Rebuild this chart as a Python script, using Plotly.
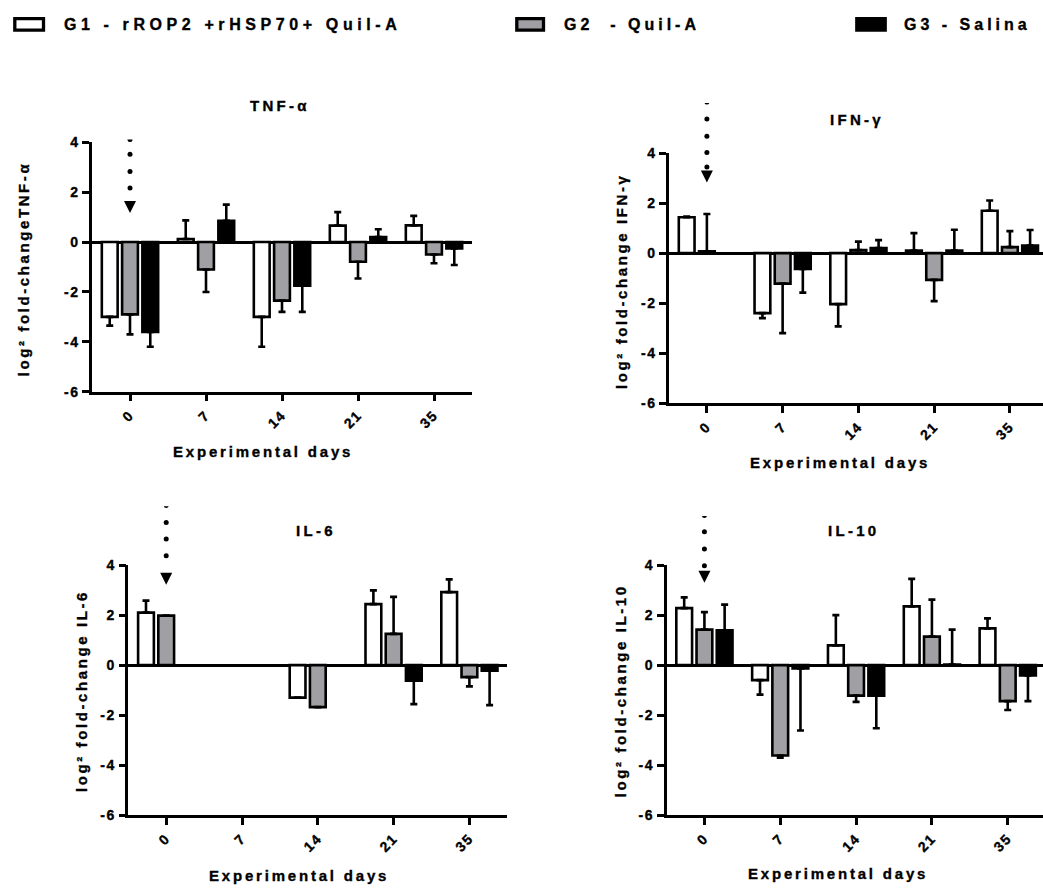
import plotly.graph_objects as go

# ---------------- data ----------------
days = ["0", "7", "14", "21", "35"]
group_names = ["G1 - rROP2 +rHSP70+ Quil-A", "G2  - Quil-A", "G3 - Salina"]
group_colors = ["#ffffff", "#a0a0a4", "#000000"]

# TNF-alpha
tnf_g1 = [-3.0, 0.12, -3.0, 0.66, 0.67]
tnf_g1_sem = [0.35, 0.75, 1.2, 0.54, 0.38]
tnf_g2 = [-2.9, -1.1, -2.35, -0.79, -0.5]
tnf_g2_sem = [0.8, 0.9, 0.45, 0.67, 0.35]
tnf_g3 = [-3.6, 0.85, -1.75, 0.2, -0.26]
tnf_g3_sem = [0.6, 0.65, 1.05, 0.31, 0.66]

# IFN-gamma
ifn_g1 = [1.43, -2.4, -2.04, 0.1, 1.69]
ifn_g1_sem = [0.03, 0.2, 0.89, 0.7, 0.41]
ifn_g2 = [0.07, -1.22, 0.12, -1.07, 0.24]
ifn_g2_sem = [1.49, 1.98, 0.34, 0.85, 0.64]
ifn_g3 = [None, -0.63, 0.2, 0.1, 0.3]
ifn_g3_sem = [None, 0.95, 0.32, 0.83, 0.62]

# IL-6
il6_g1 = [2.1, None, -1.3, 2.44, 2.92]
il6_g1_sem = [0.48, None, 0.0, 0.55, 0.51]
il6_g2 = [1.98, None, -1.68, 1.25, -0.48]
il6_g2_sem = [0.0, None, 0.0, 1.48, 0.37]
il6_g3 = [None, None, None, -0.62, -0.22]
il6_g3_sem = [None, None, None, 0.94, 1.38]

# IL-10
il10_g1 = [2.28, -0.6, 0.79, 2.35, 1.47]
il10_g1_sem = [0.43, 0.58, 1.21, 1.1, 0.4]
il10_g2 = [1.42, -3.62, -1.22, 1.14, -1.44]
il10_g2_sem = [0.7, 0.09, 0.25, 1.48, 0.36]
il10_g3 = [1.39, -0.13, -1.22, 0.02, -0.41]
il10_g3_sem = [1.03, 2.49, 1.31, 1.4, 1.03]

# dotted arrows (immunisation mark at day 0)
tnf_arrow_dots = [4.11, 3.52, 2.83, 2.17]
tnf_arrow_tip = 1.16
ifn_arrow_dots = [6.04, 5.36, 4.67, 4.02, 3.44]
ifn_arrow_tip = 2.82
il6_arrow_dots = [6.39, 5.71, 5.05, 4.38]
il6_arrow_tip = 3.22
il10_arrow_dots = [5.99, 5.34, 4.65, 3.98]
il10_arrow_tip = 3.30

panel_titles = ["TNF-α", "IFN-γ", "IL-6", "IL-10"]
y_titles = ["log² fold-changeTNF-α", "log² fold-change IFN-γ",
            "log² fold-change IL-6", "log² fold-change IL-10"]
x_title = "Experimental days"
y_ticks = [-6, -4, -2, 0, 2, 4]
y_tick_labels = ["-6", "-4", "-2", "0", "2", "4"]

# ---------------- layout helpers ----------------
W, H = 1043, 895
FONT = "Liberation Sans, Arial, sans-serif"


def px_x(p):
    return p / W


def px_y(p):
    return 1 - p / H


def spaced(text, sp):
    return (f'<span style="letter-spacing:{sp}px;stroke:#000;stroke-width:0.35px">'
            f'{text}</span>')


panels = [
    dict(vals=[(tnf_g1, tnf_g1_sem), (tnf_g2, tnf_g2_sem), (tnf_g3, tnf_g3_sem)],
         dots=tnf_arrow_dots, tip=tnf_arrow_tip, cut=134.0,
         x0=92, x1=472, xr=[-0.5, 4.5], ytop=136.7, ybot=390.7,
         title=(280, 99), xt=(263, 451.7), yt=(23.3, 265.8)),
    dict(vals=[(ifn_g1, ifn_g1_sem), (ifn_g2, ifn_g2_sem), (ifn_g3, ifn_g3_sem)],
         dots=ifn_arrow_dots, tip=ifn_arrow_tip, cut=96.7,
         x0=669, x1=1043, xr=[-0.5, 4.437], ytop=147.7, ybot=402.3,
         title=(856.7, 113.5), xt=(840, 462.7), yt=(621.7, 278.3)),
    dict(vals=[(il6_g1, il6_g1_sem), (il6_g2, il6_g2_sem), (il6_g3, il6_g3_sem)],
         dots=il6_arrow_dots, tip=il6_arrow_tip, cut=507.2,
         x0=128.3, x1=507.3, xr=[-0.5, 4.5], ytop=567.3, ybot=821.7,
         title=(315.6, 531.7), xt=(298.8, 883.3), yt=(81.7, 695.8)),
    dict(vals=[(il10_g1, il10_g1_sem), (il10_g2, il10_g2_sem), (il10_g3, il10_g3_sem)],
         dots=il10_arrow_dots, tip=il10_arrow_tip, cut=517.2,
         x0=666.5, x1=1043, xr=[-0.5, 4.465], ytop=567.3, ybot=821.7,
         title=(854, 531.7), xt=(837.5, 881.7), yt=(620, 695.8)),
]

fig = go.Figure()
annotations = []
layout_axes = {}
tickfont = dict(family=FONT, size=14, color="black", weight="bold")

for i, p in enumerate(panels):
    n = "" if i == 0 else str(i + 1)
    xa, ya = "x" + n, "y" + n
    ya_arrow = "y" + str(i + 5)
    for g, (vals, sem) in enumerate(p["vals"]):
        plus = [(e if (v is not None and v >= 0) else 0) if e is not None else None
                for v, e in zip(vals, sem)]
        minus = [(e if (v is not None and v < 0) else 0) if e is not None else None
                 for v, e in zip(vals, sem)]
        fig.add_trace(go.Bar(
            x=days, y=vals, name=group_names[g], showlegend=False,
            xaxis=xa, yaxis=ya,
            marker=dict(color=group_colors[g], line=dict(color="black", width=2.6)),
            error_y=dict(type="data", symmetric=False, array=plus, arrayminus=minus,
                         color="black", thickness=2.6, width=3.5),
        ))
    # dotted arrow (on an invisible y axis with identical scale, extended upwards)
    fig.add_trace(go.Scatter(
        x=[days[0]] * len(p["dots"]), y=p["dots"], mode="markers",
        marker=dict(symbol="circle", size=5, color="black", line=dict(width=0)),
        xaxis=xa, yaxis=ya_arrow, showlegend=False, hoverinfo="skip"))
    fig.add_trace(go.Scatter(
        x=[days[0]], y=[p["tip"]], mode="markers",
        marker=dict(symbol="arrow-down", size=12, color="black", line=dict(width=0)),
        xaxis=xa, yaxis=ya_arrow, showlegend=False, hoverinfo="skip"))

    layout_axes["xaxis" + n] = dict(
        domain=[px_x(p["x0"]), min(1.0, px_x(p["x1"]))], anchor=ya,
        type="category", range=p["xr"], showline=True, linecolor="black", linewidth=2.5,
        ticks="outside", ticklen=7, tickwidth=2.5, tickcolor="black", tickangle=-45,
        tickvals=days, ticktext=[spaced(d, 1.5) for d in days],
        tickfont=tickfont, showgrid=False, zeroline=False, fixedrange=True)
    layout_axes["yaxis" + n] = dict(
        domain=[px_y(p["ybot"]), px_y(p["ytop"])], anchor=xa,
        range=[-6, 4], tickvals=y_ticks, ticktext=[spaced(t, 1.5) for t in y_tick_labels],
        showline=True, linecolor="black", linewidth=2.5,
        ticks="outside", ticklen=7, tickwidth=2.5, tickcolor="black",
        tickfont=tickfont, showgrid=False,
        zeroline=True, zerolinecolor="black", zerolinewidth=2.5, fixedrange=True)
    ppu = (p["ybot"] - p["ytop"]) / 10.0
    layout_axes["yaxis" + str(i + 5)] = dict(
        domain=[px_y(p["ybot"]), px_y(p["cut"])], anchor=xa, visible=False,
        range=[-6, 4 + (p["ytop"] - p["cut"]) / ppu], showgrid=False, zeroline=False,
        fixedrange=True)

    annotations.append(dict(
        text=spaced(panel_titles[i], 3.3), x=px_x(p["title"][0]), y=px_y(p["title"][1]),
        xref="paper", yref="paper", xanchor="center", yanchor="middle", showarrow=False,
        font=dict(family=FONT, size=15, color="black", weight="bold")))
    annotations.append(dict(
        text=spaced(x_title, 2.8), x=px_x(p["xt"][0]), y=px_y(p["xt"][1]),
        xref="paper", yref="paper", xanchor="center", yanchor="middle", showarrow=False,
        font=dict(family=FONT, size=15, color="black", weight="bold")))
    annotations.append(dict(
        text=spaced(y_titles[i], 2.6), x=px_x(p["yt"][0]), y=px_y(p["yt"][1]),
        xref="paper", yref="paper", xanchor="center", yanchor="middle", showarrow=False,
        textangle=-90,
        font=dict(family=FONT, size=15, color="black", weight="bold")))

# legend drawn as boxes + text
legend_boxes = [(14.8, 43.5), (516.8, 543.5), (856.8, 885.2)]
legend_text_x = [62, 562, 902]
legend_spacing = [4.6, 4, 4]
shapes = []
for g in range(3):
    bx0, bx1 = legend_boxes[g]
    shapes.append(dict(type="rect", xref="paper", yref="paper",
                       x0=px_x(bx0), x1=px_x(bx1), y0=px_y(22.6), y1=px_y(10.8),
                       fillcolor=group_colors[g], line=dict(color="black", width=3.3)))
    annotations.append(dict(
        text=spaced(group_names[g], legend_spacing[g]), x=px_x(legend_text_x[g]),
        y=px_y(16.5), xref="paper", yref="paper", xanchor="left", yanchor="middle",
        showarrow=False, font=dict(family=FONT, size=16, color="black", weight="bold")))

fig.update_layout(
    width=W, height=H, margin=dict(l=0, r=0, t=0, b=0),
    paper_bgcolor="white", plot_bgcolor="rgba(0,0,0,0)",
    barmode="group", bargap=0.2, bargroupgap=0.22,
    annotations=annotations, shapes=shapes, showlegend=False,
    **layout_axes,
)

fig.write_html("out.html")
